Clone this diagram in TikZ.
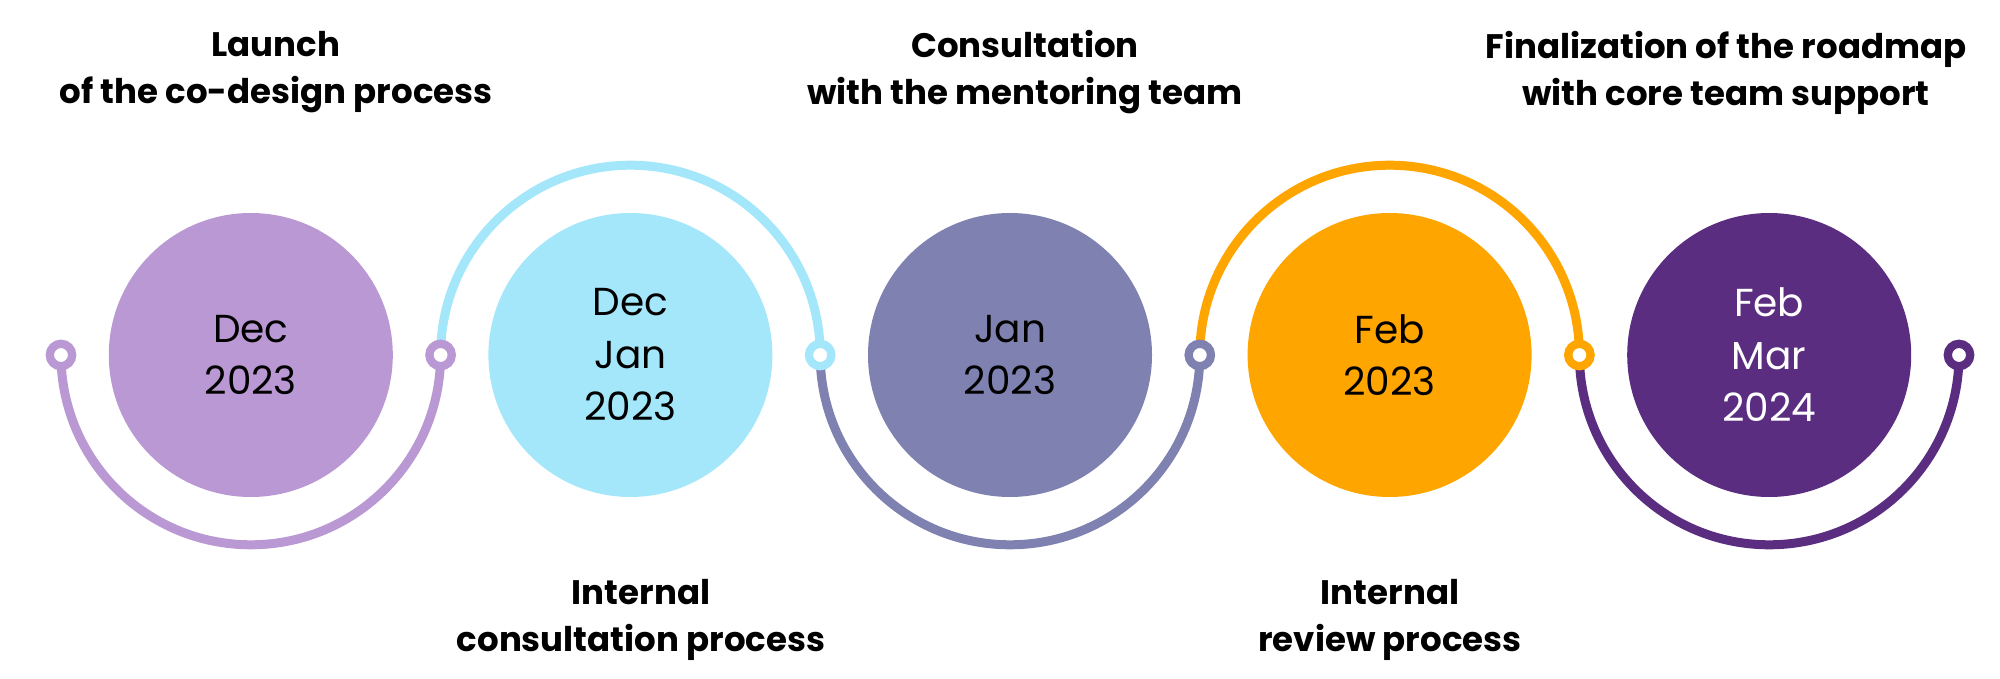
\documentclass[tikz,border=0pt]{standalone}
\usepackage{fontspec}
\setmainfont{Poppins}
\definecolor{cA}{RGB}{186,152,211}
\definecolor{cB}{RGB}{165,231,250}
\definecolor{cC}{RGB}{127,130,176}
\definecolor{cD}{RGB}{255,165,0}
\definecolor{cE}{RGB}{90,45,128}
\begin{document}
\begin{tikzpicture}[x=1pt,y=1pt,
  datebox/.style={circle, minimum size=284pt, inner sep=0pt, align=center, font=\fontsize{39}{52.5}\selectfont},
  ringnode/.style={circle, minimum size=22.4pt, inner sep=0pt, line width=8.3pt, fill=white, draw=#1},
  arcline/.style={line width=9pt, draw=#1},
  heading/.style={align=center, font=\fontsize{34}{47}\selectfont\bfseries}]
\useasboundingbox (0,0) rectangle (2000,678);
% circles
\node[datebox, fill=cA] (c1) at (250.8,323) {Dec\\2023};
\node[datebox, fill=cB] (c2) at (630.4,323) {Dec\\Jan\\2023};
\node[datebox, fill=cC] (c3) at (1010,323) {Jan\\2023};
\node[datebox, fill=cD] (c4) at (1389.6,323) {Feb\\2023};
\node[datebox, fill=cE, text=white] (c5) at (1769.2,323) {Feb\\Mar\\2024};
% ring anchor coordinates
\coordinate (p0) at (61,323);
\coordinate (p1) at (440.6,323);
\coordinate (p2) at (820.2,323);
\coordinate (p3) at (1199.8,323);
\coordinate (p4) at (1579.4,323);
\coordinate (p5) at (1959,323);
% arcs
\draw[arcline=cA] (p0) arc[start angle=180, end angle=360, radius=189.8];
\draw[arcline=cB] (p1) arc[start angle=180, end angle=0, radius=189.8];
\draw[arcline=cC] (p2) arc[start angle=180, end angle=360, radius=189.8];
\draw[arcline=cD] (p3) arc[start angle=180, end angle=0, radius=189.8];
\draw[arcline=cE] (p4) arc[start angle=180, end angle=360, radius=189.8];
% rings
\node[ringnode=cA] (r0) at (p0) {};
\node[ringnode=cA] (r1) at (p1) {};
\node[ringnode=cB] (r2) at (p2) {};
\node[ringnode=cC] (r3) at (p3) {};
\node[ringnode=cD] (r4) at (p4) {};
\node[ringnode=cE] (r5) at (p5) {};
% headings
\node[heading] (h1) at (276,605.5) {Launch\\of the co-design process};
\node[heading] (h3) at (1025,605.5) {Consultation\\with the mentoring team};
\node[heading] (h5) at (1726,605.5) {Finalization of the roadmap\\with core team support};
\node[heading] (h2) at (641,58.5) {Internal\\consultation process};
\node[heading] (h4) at (1390,58.5) {Internal\\review process};
\end{tikzpicture}
\end{document}
